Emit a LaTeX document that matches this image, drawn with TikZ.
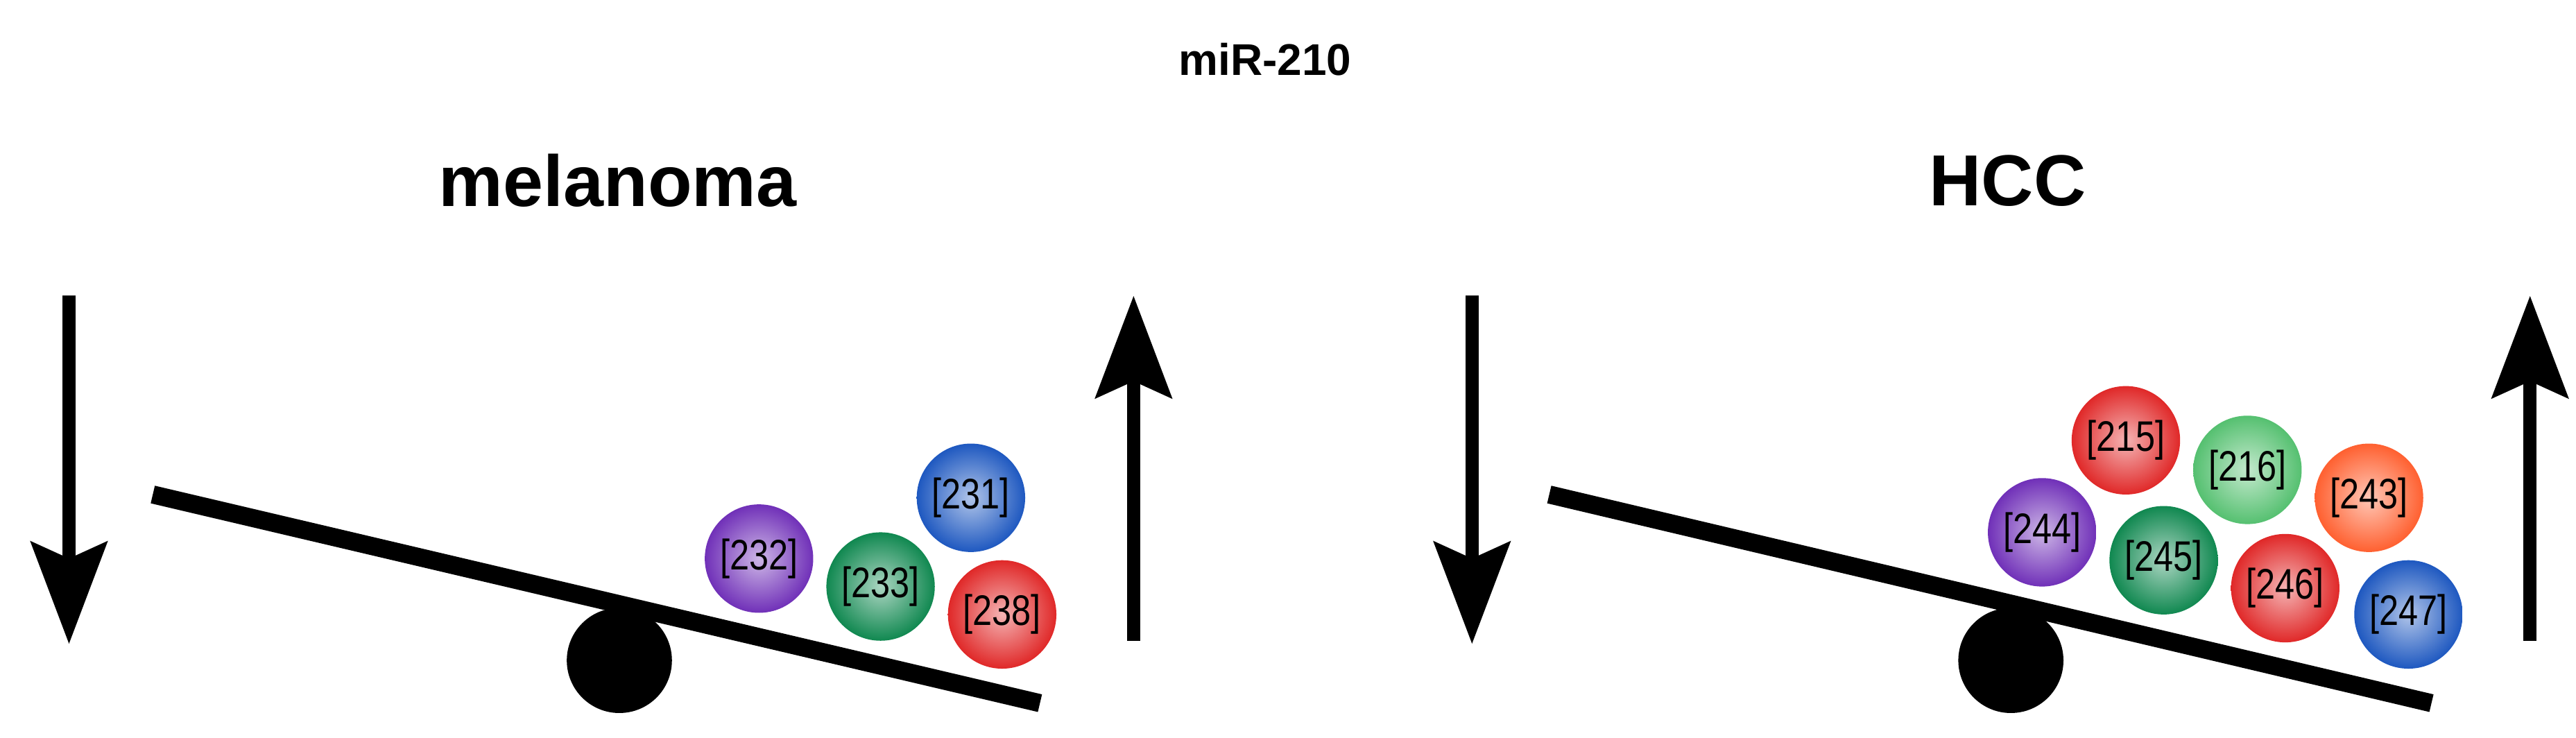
\documentclass[tikz,border=0pt]{standalone}
\usepackage{fontspec}
\setmainfont{Liberation Sans}
\usetikzlibrary{arrows.meta}
\definecolor{cpurple}{HTML}{7030B8}
\definecolor{cgreen}{HTML}{108850}
\definecolor{cblue}{HTML}{1E58C0}
\definecolor{cred}{HTML}{E02828}
\definecolor{clgreen}{HTML}{55C070}
\definecolor{corange}{HTML}{FF6030}
\tikzset{
  ballnode/.style={circle,minimum size=66pt,inner sep=0pt,shading=radial,inner color=#1!35!white,outer color=#1,
    font=\fontsize{26}{26}\selectfont},
  beam/.style={line width=11pt},
  fulcrum/.style={circle,fill=black,minimum size=64pt,inner sep=0pt},
  bigarrow/.style={line width=8pt,-{Stealth[length=62pt,width=46pt,inset=10pt]}},
  title/.style={font=\bfseries\fontsize{44}{44}\selectfont}
}
\newcommand{\lbl}[1]{\scalebox{0.82}[1]{[#1]}}
\begin{document}
\begin{tikzpicture}[x=1pt,y=-1pt]
\useasboundingbox (0,0) rectangle (1568,449);
\node[font=\bfseries\fontsize{27}{27}\selectfont] (top) at (770,36) {miR-210};
\node[title] (t1) at (376,110) {melanoma};
\node[title] (t2) at (1222,110) {HCC};
% left
\coordinate (a1s) at (42,180); \coordinate (a1e) at (42,392);
\draw[bigarrow] (a1s) -- (a1e);
\coordinate (a2s) at (690,390); \coordinate (a2e) at (690,180);
\draw[bigarrow] (a2s) -- (a2e);
\node[fulcrum] (f1) at (377,402) {};
\coordinate (b1s) at (93,301); \coordinate (b1e) at (633,428);
\draw[beam] (b1s) -- (b1e);
\node[ballnode=cpurple] (n232) at (462,340) {\lbl{232}};
\node[ballnode=cgreen] (n233) at (536,357) {\lbl{233}};
\node[ballnode=cblue] (n231) at (591,303) {\lbl{231}};
\node[ballnode=cred] (n238) at (610,374) {\lbl{238}};
% right
\coordinate (a3s) at (896,180); \coordinate (a3e) at (896,392);
\draw[bigarrow] (a3s) -- (a3e);
\coordinate (a4s) at (1540,390); \coordinate (a4e) at (1540,180);
\draw[bigarrow] (a4s) -- (a4e);
\node[fulcrum] (f2) at (1224,402) {};
\coordinate (b2s) at (943,301); \coordinate (b2e) at (1480,428);
\draw[beam] (b2s) -- (b2e);
\node[ballnode=cred] (n215) at (1294,268) {\lbl{215}};
\node[ballnode=clgreen] (n216) at (1368,286) {\lbl{216}};
\node[ballnode=corange] (n243) at (1442,303) {\lbl{243}};
\node[ballnode=cpurple] (n244) at (1243,324) {\lbl{244}};
\node[ballnode=cgreen] (n245) at (1317,341) {\lbl{245}};
\node[ballnode=cred] (n246) at (1391,358) {\lbl{246}};
\node[ballnode=cblue] (n247) at (1466,374) {\lbl{247}};
\end{tikzpicture}
\end{document}
